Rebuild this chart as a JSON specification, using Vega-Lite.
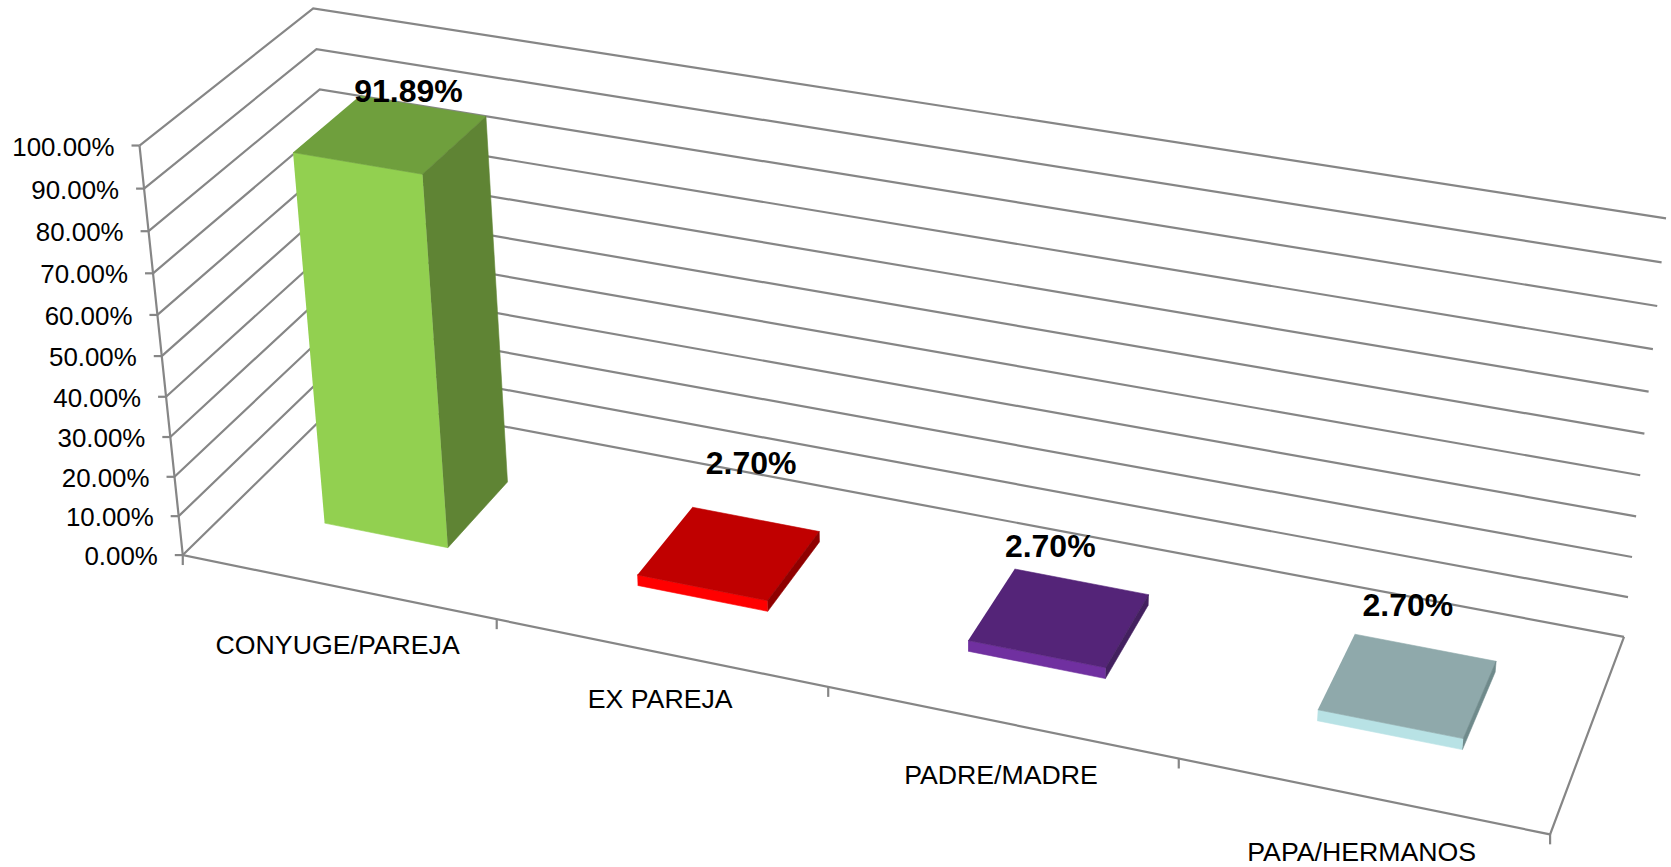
{
"$schema":"https://vega.github.io/schema/vega-lite/v6.json",
"autosize":{"type":"fit","contains":"padding"},
"width":1671,"height":867,"padding":0,"background":"white",
"view":{"stroke":null},
"config":{"text":{"font":"Liberation Sans"}},
"datasets":{
"barras":[
{"categoria":"CONYUGE/PAREJA","valor":0.9189},
{"categoria":"EX PAREJA","valor":0.027},
{"categoria":"PADRE/MADRE","valor":0.027},
{"categoria":"PAPA/HERMANOS","valor":0.027}],
"niveles":[{"nivel":0},{"nivel":0.1},{"nivel":0.2},{"nivel":0.3},{"nivel":0.4},{"nivel":0.5},{"nivel":0.6},{"nivel":0.7},{"nivel":0.8},{"nivel":0.9},{"nivel":1}],
"cortes":[{"corte":0},{"corte":1},{"corte":2},{"corte":3},{"corte":4}],
"marco":[{"eje":"marco"}]
},
"encoding":{
"x":{"field":"px","type":"quantitative","axis":null,"scale":{"domain":[0,1671],"nice":false,"zero":false}},
"y":{"field":"py","type":"quantitative","axis":null,"scale":{"domain":[867,0],"nice":false,"zero":false}}
},
"layer":[
{"data":{"name":"niveles"},
"transform":[
{"calculate":"[0,0,1]","as":"u"},{"calculate":"[0,1,1]","as":"d"},{"calculate":"[0,1,2]","as":"k"},
{"flatten":["u","d","k"]},
{"calculate":"datum.nivel","as":"t"},
{"calculate":"1-0.1059*datum.u+0.0748*datum.d-0.055*datum.t","as":"w"},
{"calculate":"(183+1204.6*datum.u+187.8*datum.d-51*datum.t)/datum.w","as":"px"},
{"calculate":"(557+191.6*datum.u-129.4*datum.d-419*datum.t)/datum.w","as":"py"}],
"mark":{"type":"line","stroke":"#868686","strokeWidth":2.2,"interpolate":"linear"},
"encoding":{"detail":{"field":"nivel"},"order":{"field":"k","type":"quantitative"}}},
{"data":{"name":"marco"},
"transform":[
{"calculate":"[0,0,1,1]","as":"u"},{"calculate":"[0,0,0,1]","as":"d"},{"calculate":"[1,0,0,0]","as":"t"},{"calculate":"[0,1,2,3]","as":"k"},
{"flatten":["u","d","t","k"]},
{"calculate":"1-0.1059*datum.u+0.0748*datum.d-0.055*datum.t","as":"w"},
{"calculate":"(183+1204.6*datum.u+187.8*datum.d-51*datum.t)/datum.w","as":"px"},
{"calculate":"(557+191.6*datum.u-129.4*datum.d-419*datum.t)/datum.w","as":"py"}],
"mark":{"type":"line","stroke":"#868686","strokeWidth":2.2},
"encoding":{"order":{"field":"k","type":"quantitative"}}},
{"data":{"name":"niveles"},
"transform":[
{"calculate":"datum.nivel","as":"t"},
{"calculate":"1-0.055*datum.t","as":"w"},
{"calculate":"(183-51*datum.t)/datum.w","as":"px"},
{"calculate":"(557-419*datum.t)/datum.w","as":"py"},
{"calculate":"datum.px-8","as":"px2"}],
"mark":{"type":"rule","stroke":"#868686","strokeWidth":2.2},
"encoding":{"x2":{"field":"px2"}}},
{"data":{"name":"cortes"},
"transform":[
{"calculate":"datum.corte/4","as":"u"},
{"calculate":"1-0.1059*datum.u","as":"w"},
{"calculate":"(183+1204.6*datum.u)/datum.w","as":"px"},
{"calculate":"(557+191.6*datum.u)/datum.w","as":"py"},
{"calculate":"datum.py+10","as":"py2"}],
"mark":{"type":"rule","stroke":"#868686","strokeWidth":2.2},
"encoding":{"y2":{"field":"py2"}}},
{"data":{"name":"barras"},
"transform":[
{"window":[{"op":"row_number","as":"i"}]},
{"calculate":"['frente','arriba','lado']","as":"cara"},
{"flatten":["cara"]},
{"calculate":"datum.cara==='frente'?[0,1,1,0]:datum.cara==='arriba'?[0,1,1,0]:[1,1,1,1]","as":"vu"},
{"calculate":"datum.cara==='frente'?[0,0,0,0]:datum.cara==='arriba'?[0,0,1,1]:[0,1,1,0]","as":"vd"},
{"calculate":"datum.cara==='frente'?[1,1,0,0]:datum.cara==='arriba'?[1,1,1,1]:[1,1,0,0]","as":"vt"},
{"calculate":"[0,1,2,3]","as":"k"},
{"flatten":["vu","vd","vt","k"]},
{"calculate":"(datum.i-0.5)/4+(datum.vu-0.5)*0.1","as":"u"},
{"calculate":"0.3+0.4*datum.vd","as":"d"},
{"calculate":"datum.vt*datum.valor","as":"t"},
{"calculate":"1-0.1059*datum.u+0.0748*datum.d-0.055*datum.t","as":"w"},
{"calculate":"(183+1204.6*datum.u+187.8*datum.d-51*datum.t)/datum.w","as":"px"},
{"calculate":"(557+191.6*datum.u-129.4*datum.d-419*datum.t)/datum.w","as":"py"},
{"calculate":"datum.categoria+' '+datum.cara","as":"tono"}],
"mark":{"type":"line","filled":true,"strokeWidth":0.6},
"encoding":{
"color":{"field":"tono","type":"nominal","legend":null,"scale":{
"domain":["CONYUGE/PAREJA frente","CONYUGE/PAREJA arriba","CONYUGE/PAREJA lado","EX PAREJA frente","EX PAREJA arriba","EX PAREJA lado","PADRE/MADRE frente","PADRE/MADRE arriba","PADRE/MADRE lado","PAPA/HERMANOS frente","PAPA/HERMANOS arriba","PAPA/HERMANOS lado"],
"range":["#92D050","#6F9F3D","#5F8434","#FF0000","#C00000","#8F0000","#7030A0","#542478","#43205F","#B8E2E5","#8FA9AB","#6F8A8B"]}},
"stroke":{"field":"tono","type":"nominal","legend":null,"scale":{
"domain":["CONYUGE/PAREJA frente","CONYUGE/PAREJA arriba","CONYUGE/PAREJA lado","EX PAREJA frente","EX PAREJA arriba","EX PAREJA lado","PADRE/MADRE frente","PADRE/MADRE arriba","PADRE/MADRE lado","PAPA/HERMANOS frente","PAPA/HERMANOS arriba","PAPA/HERMANOS lado"],
"range":["#92D050","#6F9F3D","#5F8434","#FF0000","#C00000","#8F0000","#7030A0","#542478","#43205F","#B8E2E5","#8FA9AB","#6F8A8B"]}},
"order":{"field":"k","type":"quantitative"}}},
{"data":{"name":"niveles"},
"transform":[
{"calculate":"datum.nivel","as":"t"},
{"calculate":"1-0.055*datum.t","as":"w"},
{"calculate":"(183-51*datum.t)/datum.w-25","as":"px"},
{"calculate":"(557-419*datum.t)/datum.w+2","as":"py"}],
"mark":{"type":"text","align":"right","baseline":"middle","fontSize":25.9,"color":"#000000"},
"encoding":{"text":{"field":"nivel","type":"quantitative","format":".2%"}}},
{"data":{"name":"barras"},
"transform":[
{"window":[{"op":"row_number","as":"i"}]},
{"calculate":"(datum.i-0.5)/4","as":"u"},
{"calculate":"1-0.1059*datum.u","as":"w"},
{"calculate":"(183+1204.6*datum.u)/datum.w","as":"px"},
{"calculate":"(557+191.6*datum.u)/datum.w+[59,48,54,57][datum.i-1]","as":"py"}],
"mark":{"type":"text","align":"center","baseline":"middle","fontSize":26.7,"color":"#000000"},
"encoding":{"text":{"field":"categoria","type":"nominal"}}},
{"data":{"name":"barras"},
"transform":[
{"window":[{"op":"row_number","as":"i"}]},
{"calculate":"(datum.i-0.5)/4","as":"u"},
{"calculate":"0.5","as":"d"},
{"calculate":"datum.valor","as":"t"},
{"calculate":"1-0.1059*datum.u+0.0748*datum.d-0.055*datum.t","as":"w"},
{"calculate":"(183+1204.6*datum.u+187.8*datum.d-51*datum.t)/datum.w+[18,22,-9,0][datum.i-1]","as":"px"},
{"calculate":"(557+191.6*datum.u-129.4*datum.d-419*datum.t)/datum.w+[-42,-89,-71,-80][datum.i-1]","as":"py"}],
"mark":{"type":"text","align":"center","baseline":"middle","fontSize":32,"fontWeight":"bold","color":"#000000"},
"encoding":{"text":{"field":"valor","type":"quantitative","format":".2%"}}}
]
}
